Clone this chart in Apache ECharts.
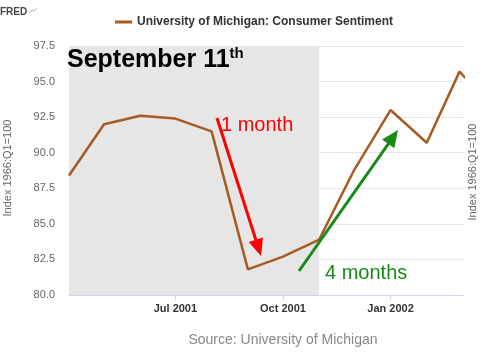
<!DOCTYPE html>
<html><head><meta charset="utf-8">
<script src="https://cdn.jsdelivr.net/npm/echarts@6/dist/echarts.min.js"></script>
<style>html,body{margin:0;padding:0;background:#fff}#c{width:499px;height:362px}</style>
</head><body><div id="c"></div>
<script>
const dates = ['2001-04-01','2001-05-01','2001-06-01','2001-07-01','2001-08-01','2001-09-01','2001-10-01','2001-11-01','2001-12-01','2002-01-01','2002-02-01','2002-03-01','2002-04-01'];
const sentiment = [88.4,92.0,92.6,92.4,91.5,81.8,82.7,83.9,88.8,93.0,90.7,95.7,93.0];
const tickDates = ['2001-07-01','2001-10-01','2002-01-01'];
const tickLabels = ['Jul 2001','Oct 2001','Jan 2002'];
const recession = ['2001-03-01','2001-11-01'];
const seriesName = 'University of Michigan: Consumer Sentiment';

const chart = echarts.init(document.getElementById('c'), null, {renderer:'canvas'});
const ts = s => { const p = s.split('-'); return Date.UTC(+p[0], +p[1]-1, +p[2]); };
const tickTs = tickDates.map(ts);

function arrowHead(x1,y1,x2,y2,len,w){
  const a = Math.atan2(y2-y1,x2-x1);
  const bx = x2 - len*Math.cos(a), by = y2 - len*Math.sin(a);
  const nx = -Math.sin(a)*w/2, ny = Math.cos(a)*w/2;
  return [[x2,y2],[bx+nx,by+ny],[bx-nx,by-ny]];
}
function arrow(x1,y1,x2,y2,color){
  const len=17, w=15;
  const a = Math.atan2(y2-y1,x2-x1);
  return [
    {type:'line', shape:{x1:x1,y1:y1,x2:x2-(len-2)*Math.cos(a),y2:y2-(len-2)*Math.sin(a)}, style:{stroke:color,lineWidth:3}, z:100},
    {type:'polygon', shape:{points:arrowHead(x1,y1,x2,y2,len,w)}, style:{fill:color}, z:100}
  ];
}

const option = {
  animation:false,
  grid:{left:69, right:36, top:46, bottom:67},
  legend:{
    data:[seriesName], top:11, left:110, itemWidth:17, itemHeight:3, itemGap:5,
    icon:'rect',
    textStyle:{fontFamily:'Liberation Sans, Arial', fontSize:12, fontWeight:'bold', color:'#333'}
  },
  xAxis:{
    type:'value', min:ts('2001-04-01'), max:ts('2002-03-04'),
    splitLine:{show:false},
    axisLine:{show:true, lineStyle:{color:'#ccd6eb', width:1}},
    axisTick:{show:true, customValues:tickTs, length:5, lineStyle:{color:'#ccd6eb'}},
    axisLabel:{
      customValues:tickTs, margin:8, showMinLabel:true, showMaxLabel:true,
      fontFamily:'Liberation Sans, Arial', fontSize:11, fontWeight:'bold', color:'#333',
      formatter:function(v){ const i = tickTs.indexOf(v); return i>=0 ? tickLabels[i] : ''; }
    }
  },
  yAxis:{
    type:'value', min:80, max:97.5, interval:2.5,
    axisLine:{show:false}, axisTick:{show:false},
    splitLine:{lineStyle:{color:'#e6e6e6', width:1}},
    axisLabel:{margin:14, fontFamily:'Liberation Sans, Arial', fontSize:11, color:'#666', formatter:v=>v.toFixed(1)}
  },
  series:[{
    name:seriesName, type:'line', showSymbol:false, symbol:'none', clip:true,
    data:dates.map((d,i)=>[ts(d), sentiment[i]]),
    lineStyle:{color:'#a85a22', width:2.5},
    itemStyle:{color:'#a85a22'},
    markArea:{silent:true, itemStyle:{color:'#e6e6e6'},
      data:[[{xAxis:ts('2001-04-01')},{xAxis:ts(recession[1])}]]}
  }],
  graphic:[
    {type:'text', left:0, top:7, style:{text:'FRED', font:'bold 10px Liberation Sans, Arial', fill:'#444'}},
    {type:'polyline', shape:{points:[[29,13],[32,10],[34,11],[37,8]]}, style:{stroke:'#9bb',lineWidth:1,fill:null}},
    {type:'text', x:8, y:168, rotation:Math.PI/2, style:{text:'Index 1966:Q1=100', font:'11px Liberation Sans, Arial', fill:'#666', align:'center', verticalAlign:'middle'}},
    {type:'text', x:473, y:172, rotation:Math.PI/2, style:{text:'Index 1966:Q1=100', font:'11px Liberation Sans, Arial', fill:'#666', align:'center', verticalAlign:'middle'}},
    {type:'text', x:283, y:340, style:{text:'Source: University of Michigan', font:'14px Liberation Sans, Arial', fill:'#888', align:'center', verticalAlign:'middle'}, z:100},
    {type:'text', x:67, y:60, z:100, style:{
      rich:{a:{font:'bold 25px Liberation Sans, Arial', fill:'#000'}, s:{font:'bold 15px Liberation Sans, Arial', fill:'#000', verticalAlign:'top', padding:[0,0,12,0]}},
      text:'{a|September 11}{s|th}', verticalAlign:'middle'}},
    {type:'text', x:221, y:125, z:100, style:{text:'1 month', font:'20px Liberation Sans, Arial', fill:'#ff0000', verticalAlign:'middle'}},
    {type:'text', x:325, y:273, z:100, style:{text:'4 months', font:'20px Liberation Sans, Arial', fill:'#178a17', verticalAlign:'middle'}}
  ].concat(arrow(217,118,261,256,'#ff0000')).concat(arrow(299,271,398,130,'#178a17'))
};
chart.setOption(option);
</script></body></html>
